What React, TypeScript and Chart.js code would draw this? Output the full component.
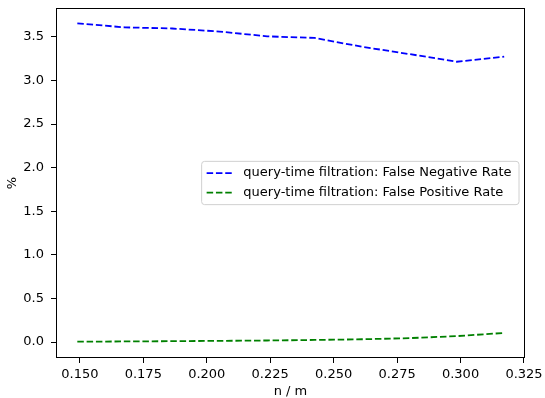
import React, { useEffect, useRef } from "react";
import { Chart, registerables } from "chart.js";

Chart.register(...registerables);

const xValues = [0.149, 0.1677, 0.1864, 0.2051, 0.2238, 0.2424, 0.2611, 0.2798, 0.2985, 0.3172];
const falseNegativeRate = [3.654, 3.608, 3.595, 3.56, 3.505, 3.487, 3.386, 3.302, 3.214, 3.272];
const falsePositiveRate = [0.005, 0.007, 0.01, 0.014, 0.018, 0.024, 0.032, 0.045, 0.068, 0.105];
const xTicks = [0.15, 0.175, 0.2, 0.225, 0.25, 0.275, 0.3, 0.325];
const yTicks = [0, 0.5, 1, 1.5, 2, 2.5, 3, 3.5];
const seriesLabels = [
  "query-time filtration: False Negative Rate",
  "query-time filtration: False Positive Rate",
];

const FONT = "'DejaVu Sans', sans-serif";
const FS = 13;
const DASH = [6.5, 2.8];

const framePlugin = {
  id: "frame",
  afterDraw(chart: any) {
    const { ctx, chartArea: a } = chart;
    ctx.save();
    ctx.strokeStyle = "#000";
    ctx.lineWidth = 1;
    ctx.strokeRect(Math.round(a.left) + 0.5, Math.round(a.top) + 0.5, Math.round(a.right - a.left) - 1, Math.round(a.bottom - a.top) - 1);
    // legend
    ctx.font = `${FS}px ${FONT}`;
    const widths = chart.data.datasets.map((d: any) => ctx.measureText(d.label).width);
    const textW = Math.max(...widths);
    const boxW = 41.7 + textW + 7.5;
    const boxH = 43.3;
    const right = a.right - 6;
    const left = right - boxW;
    const top = (a.top + a.bottom) / 2 - boxH / 2;
    ctx.beginPath();
    const r = 3;
    ctx.moveTo(left + r, top);
    ctx.lineTo(left + boxW - r, top);
    ctx.quadraticCurveTo(left + boxW, top, left + boxW, top + r);
    ctx.lineTo(left + boxW, top + boxH - r);
    ctx.quadraticCurveTo(left + boxW, top + boxH, left + boxW - r, top + boxH);
    ctx.lineTo(left + r, top + boxH);
    ctx.quadraticCurveTo(left, top + boxH, left, top + boxH - r);
    ctx.lineTo(left, top + r);
    ctx.quadraticCurveTo(left, top, left + r, top);
    ctx.closePath();
    ctx.fillStyle = "rgba(255,255,255,0.8)";
    ctx.fill();
    ctx.strokeStyle = "#d0d0d0";
    ctx.lineWidth = 1;
    ctx.stroke();
    chart.data.datasets.forEach((d: any, i: number) => {
      const y = top + 11.7 + i * 19.6;
      ctx.beginPath();
      ctx.setLineDash(DASH);
      ctx.strokeStyle = d.borderColor;
      ctx.lineWidth = 1.8;
      ctx.moveTo(left + 5, y);
      ctx.lineTo(left + 30.7, y);
      ctx.stroke();
      ctx.setLineDash([]);
      ctx.fillStyle = "#000";
      ctx.textBaseline = "middle";
      ctx.textAlign = "left";
      ctx.fillText(d.label, left + 41.7, y);
    });
    ctx.restore();
  },
};

export default function App() {
  const ref = useRef<HTMLCanvasElement | null>(null);
  useEffect(() => {
    if (!ref.current) return;
    const tickFont = { family: FONT, size: FS };
    const chart = new Chart(ref.current, {
      type: "line",
      data: {
        datasets: [
          {
            label: seriesLabels[0],
            data: xValues.map((x, i) => ({ x, y: falseNegativeRate[i] })),
            borderColor: "#0000ff",
            borderDash: DASH,
            borderWidth: 1.8,
            pointRadius: 0,
            fill: false,
            tension: 0,
          },
          {
            label: seriesLabels[1],
            data: xValues.map((x, i) => ({ x, y: falsePositiveRate[i] })),
            borderColor: "#008000",
            borderDash: DASH,
            borderWidth: 1.8,
            pointRadius: 0,
            fill: false,
            tension: 0,
          },
        ],
      },
      options: {
        animation: false,
        responsive: false,
        layout: { padding: { left: 0, right: 20, top: 8, bottom: 0 } },
        plugins: { legend: { display: false }, tooltip: { enabled: false } },
        scales: {
          x: {
            type: "linear",
            min: 0.1406,
            max: 0.3254,
            afterBuildTicks: (s: any) => {
              s.ticks = xTicks.map((v) => ({ value: v }));
            },
            afterFit: (s: any) => {
              s.height = 40;
              s.paddingLeft = 0;
              s.paddingRight = 0;
            },
            ticks: {
              font: tickFont,
              color: "#000",
              padding: 4,
              maxRotation: 0,
              callback: (v: any) => Number(v).toFixed(3),
            },
            grid: { display: true, drawOnChartArea: false, drawTicks: true, tickLength: 5, color: "#000" },
            border: { display: false },
            title: { display: true, text: "n / m", font: tickFont, color: "#000", padding: { top: 0, bottom: -1 } },
          },
          y: {
            type: "linear",
            min: -0.1827,
            max: 3.83,
            afterBuildTicks: (s: any) => {
              s.ticks = yTicks.map((v) => ({ value: v }));
            },
            afterFit: (s: any) => {
              s.width = 56;
              s.paddingTop = 0;
              s.paddingBottom = 0;
            },
            ticks: {
              font: tickFont,
              color: "#000",
              padding: 7,
              callback: (v: any) => Number(v).toFixed(1),
            },
            grid: { display: true, drawOnChartArea: false, drawTicks: true, tickLength: 5, color: "#000" },
            border: { display: false },
            title: { display: true, text: "%", font: tickFont, color: "#000", padding: { top: 4.9, bottom: 0 } },
          },
        },
      },
      plugins: [framePlugin],
    } as any);
    return () => chart.destroy();
  }, []);
  return (
    <div style={{ position: "absolute", left: 0, top: 0, width: 545, height: 398, background: "#fff" }}>
      <canvas ref={ref} width={545} height={398} style={{ width: 545, height: 398 }} />
    </div>
  );
}
